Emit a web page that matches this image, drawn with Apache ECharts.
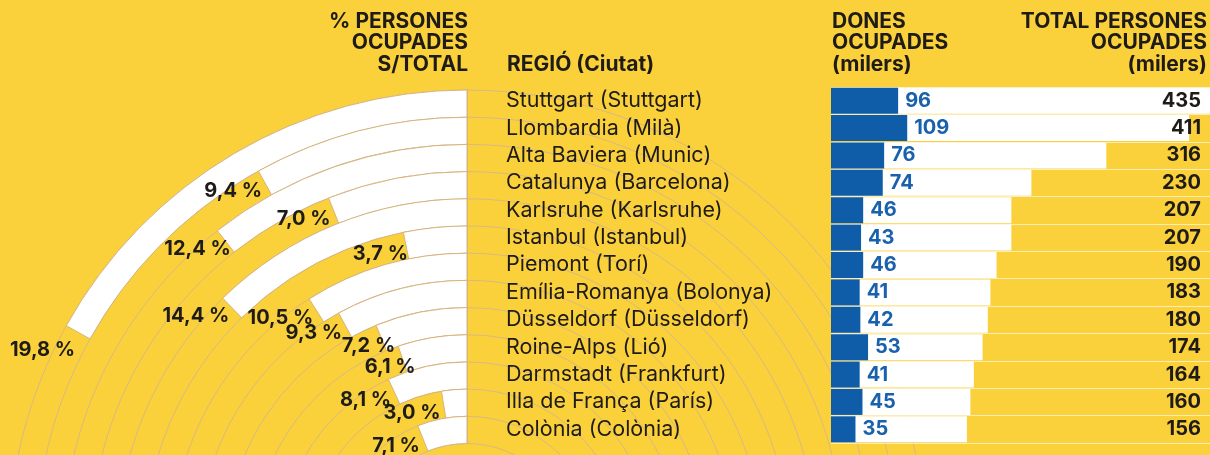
<!DOCTYPE html>
<html>
<head>
<meta charset="utf-8">
<script src="https://cdn.jsdelivr.net/npm/echarts@6/dist/echarts.min.js"></script>
<style>
  html, body { margin: 0; padding: 0; background: #FAD13B; }
  #chart { width: 1210px; height: 455px; }
</style>
</head>
<body>
<div id="chart"></div>
<script>
// ---- data ----
const regions = ['Stuttgart (Stuttgart)', 'Llombardia (Milà)', 'Alta Baviera (Munic)', 'Catalunya (Barcelona)',
  'Karlsruhe (Karlsruhe)', 'Istanbul (Istanbul)', 'Piemont (Torí)', 'Emília-Romanya (Bolonya)',
  'Düsseldorf (Düsseldorf)', 'Roine-Alps (Lió)', 'Darmstadt (Frankfurt)', 'Illa de França (París)', 'Colònia (Colònia)'];
const pctOccupied = [19.8, 9.4, 12.4, 7.0, 14.4, 3.7, 10.5, 9.3, 7.2, 6.1, 8.1, 3.0, 7.1];
const womenOccupied = [96, 109, 76, 74, 46, 43, 46, 41, 42, 53, 41, 45, 35];
const totalOccupied = [435, 411, 316, 230, 207, 207, 190, 183, 180, 174, 164, 160, 156];

const headerPct = '% PERSONES\nOCUPADES\nS/TOTAL';
const headerRegion = 'REGIÓ (Ciutat)';
const headerWomen = 'DONES\nOCUPADES\n(milers)';
const headerTotal = 'TOTAL PERSONES\nOCUPADES\n(milers)';

// ---- styles ----
const BG = '#FAD13B';
const TAN = '#D6B47E';
const GRIDC = '#D8B982';
const INK = '#1E1B18';
const BLUE = '#0F5CA8';
const BLUE_TXT = '#1A61AD';
const FONT = 'Inter';
// small label nudges (px) for the percentage labels, by row index
const labelNudge = { 0: [0, 10], 2: [8, 0], 5: [5, 0], 8: [17, 0], 9: [16, 0] };

const chart = echarts.init(document.getElementById('chart'), null, { renderer: 'canvas' });

const fmtPct = v => v.toFixed(1).replace('.', ',') + ' %';

const option = {
  backgroundColor: BG,
  animation: false,
  textStyle: { fontFamily: FONT },
  polar: { center: [467, 548.5], radius: [105, 458.5] },
  angleAxis: {
    type: 'value', min: 0, max: 117, startAngle: 90, clockwise: false,
    axisLine: { show: false }, axisTick: { show: false }, axisLabel: { show: false }, splitLine: { show: false }
  },
  radiusAxis: {
    type: 'category', data: regions, inverse: true,
    axisLine: { show: true, lineStyle: { color: TAN, width: 1 } },
    axisTick: { show: false, interval: 0 }, axisLabel: { show: false, interval: 0 },
    splitLine: { show: true, interval: 0, lineStyle: { color: GRIDC, width: 1 } }
  },
  grid: { left: 831, top: 87, width: 385, height: 356 },
  xAxis: [
    { type: 'value', min: 0, max: 435, show: false, splitLine: { show: false } },
    { type: 'value', min: 0, max: 542, show: false, splitLine: { show: false } }
  ],
  yAxis: [
    {
      type: 'category', data: regions, inverse: true,
      axisLine: { show: false }, axisTick: { show: false },
      axisLabel: { align: 'left', margin: 325, color: INK, fontSize: 21.5, fontFamily: FONT, interval: 0 },
      splitLine: { show: true, interval: 0, lineStyle: { color: '#FCEDB8', width: 1.2 } }
    },
    {
      type: 'category', data: totalOccupied.map(String), inverse: true, position: 'right', z: 20,
      axisLine: { show: false }, axisTick: { show: false }, splitLine: { show: false },
      axisLabel: { inside: true, margin: 9, color: INK, fontSize: 20, fontWeight: 'bold', fontFamily: FONT, interval: 0 }
    }
  ],
  series: [
    {
      type: 'bar', coordinateSystem: 'polar', data: pctOccupied,
      barCategoryGap: '0%',
      itemStyle: { color: '#FFFFFF', borderColor: TAN, borderWidth: 1 },
      z: 2
    },
    {
      type: 'scatter', coordinateSystem: 'polar',
      data: pctOccupied.map((v, i) => {
        const n = labelNudge[i] || [0, 0];
        return { value: [i, v], label: { offset: [n[0], 8 + n[1]] } };
      }),
      symbolSize: 0, itemStyle: { color: INK, opacity: 1 },
      label: {
        show: true, position: 'left', distance: 3, offset: [0, 8],
        formatter: p => fmtPct(p.value[1]),
        color: INK, opacity: 1, fontSize: 20, fontWeight: 'bold', fontFamily: FONT
      },
      z: 5
    },
    {
      type: 'bar', xAxisIndex: 0, yAxisIndex: 0, data: totalOccupied,
      barCategoryGap: '5%', barGap: '-100%',
      itemStyle: { color: '#FFFFFF' }, z: 2
    },
    {
      type: 'bar', xAxisIndex: 1, yAxisIndex: 0, data: womenOccupied,
      barCategoryGap: '5%', barGap: '-100%',
      itemStyle: { color: BLUE },
      label: {
        show: true, position: 'right', distance: 7, color: BLUE_TXT,
        fontSize: 20, fontWeight: 'bold', fontFamily: FONT
      },
      z: 3
    }
  ],
  graphic: [
    { type: 'text', x: 468, y: 43, style: { text: headerPct, align: 'right', verticalAlign: 'middle',
      font: 'bold 21px ' + FONT, lineHeight: 21.5, fill: INK } },
    { type: 'text', x: 507, y: 64.5, style: { text: headerRegion, align: 'left', verticalAlign: 'middle',
      font: 'bold 21px ' + FONT, fill: INK } },
    { type: 'text', x: 832, y: 43, style: { text: headerWomen, align: 'left', verticalAlign: 'middle',
      font: 'bold 21px ' + FONT, lineHeight: 21.5, fill: INK } },
    { type: 'text', x: 1207, y: 43, style: { text: headerTotal, align: 'right', verticalAlign: 'middle',
      font: 'bold 21px ' + FONT, lineHeight: 21.5, fill: INK } }
  ]
};
chart.setOption(option);
</script>
</body>
</html>
